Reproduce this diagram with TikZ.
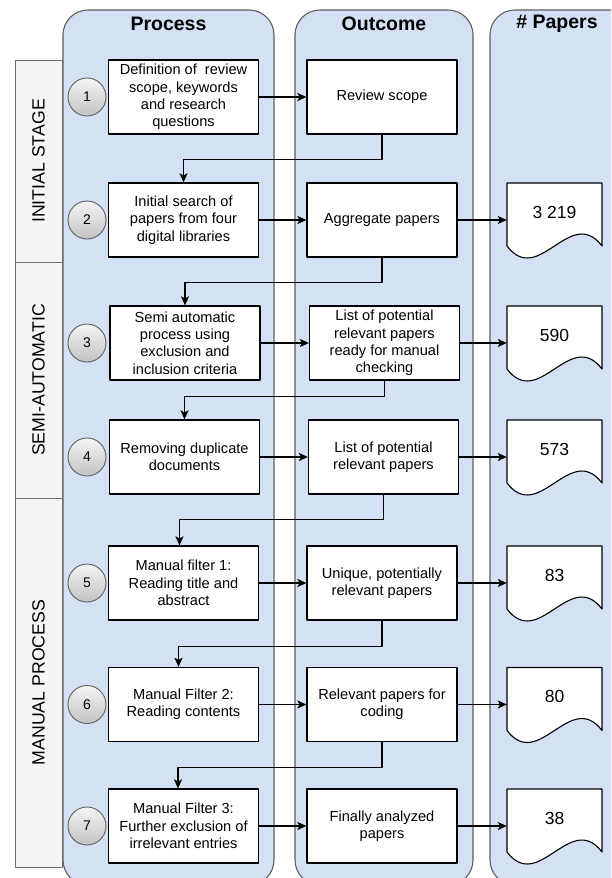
\documentclass[tikz,border=0pt]{standalone}
\usepackage{fontspec}
\setmainfont{Liberation Sans}
\usetikzlibrary{arrows.meta}
\definecolor{lanefill}{HTML}{D4E1F5}
\definecolor{lanedraw}{HTML}{5E5E5E}
\definecolor{stagefill}{HTML}{F5F5F5}
\definecolor{stagedraw}{HTML}{6E6E6E}
\tikzset{
  lane/.style={draw=lanedraw,fill=lanefill,line width=1.1pt,rounded corners=25pt},
  lanehead/.style={font=\fontsize{19.5}{22}\selectfont\bfseries,inner sep=0pt},
  stage/.style={draw=stagedraw,fill=stagefill,line width=0.9pt,rotate=90,minimum height=47pt,inner sep=0pt,font=\fontsize{17.7}{20}\selectfont},
  stepnum/.style={circle,draw=gray!75!black,line width=0.9pt,top color=gray!8,bottom color=gray!48,minimum size=38pt,inner sep=0pt,font=\fontsize{14}{16}\selectfont},
  procbox/.style={draw,fill=white,line width=1.2pt,minimum width=150pt,minimum height=74pt,align=center,inner sep=2pt,font=\fontsize{14.6}{17.4}\selectfont},
  paperdoc/.style={minimum width=95pt,minimum height=74pt,inner sep=0pt,text depth=16pt,font=\fontsize{17.5}{20}\selectfont},
  docline/.style={draw,fill=white,line width=1.1pt},
  conn/.style={->,line width=1.2pt}
}
% document shape: name, centre x, centre y, count
\newcommand{\paperdoc}[4]{%
  \draw [docline] (#2-47.5,#3-37) -- (#2+47.5,#3-37) -- (#2+47.5,#3+26)
    .. controls +(-31.7,-41.5) and +(31.7,41.5) .. (#2-47.5,#3+26) -- cycle;
  \node [paperdoc] (#1) at (#2,#3) {#4};}

\begin{document}
\begin{tikzpicture}[x=1pt,y=-1pt,line join=round,>={Stealth[length=9pt,width=8pt,inset=2pt]}]
\clip (0,0) rectangle (611,878);
% swimlanes
\draw [lane] (63,10) rectangle (274,885);
\draw [lane] (295,10) rectangle (473,885);
\draw [lane] (490,10) rectangle (660,885);
\node [lanehead] (hproc) at (168.5,24) {Process};
\node [lanehead] (hout) at (384,24) {Outcome};
\node [lanehead] (hpap) at (557,24) {\# Papers};
% stages
\node [stage,minimum width=202pt] (initial) at (38.5,161) {INITIAL STAGE};
\node [stage,minimum width=236pt] (semi) at (38.5,380) {SEMI-AUTOMATIC};
\node [stage,minimum width=369pt] (manual) at (38.5,682.5) {MANUAL PROCESS};
% process steps
\node [stepnum] (c1) at (87,97) {1};
\node [stepnum] (c2) at (87,220) {2};
\node [stepnum] (c3) at (87,343) {3};
\node [stepnum] (c4) at (87,457) {4};
\node [stepnum] (c5) at (87,583) {5};
\node [stepnum] (c6) at (87,704.5) {6};
\node [stepnum] (c7) at (87,826) {7};
\node [procbox] (p1) at (183.5,97) {Definition of \ review\\scope, keywords\\and research\\questions};
\node [procbox] (p2) at (183.5,220) {Initial search of\\papers from four\\digital libraries};
\node [procbox] (p3) at (185,343) {Semi automatic\\process using\\exclusion and\\inclusion criteria};
\node [procbox] (p4) at (184.5,457) {Removing duplicate\\documents};
\node [procbox] (p5) at (183.5,583) {Manual filter 1:\\Reading title and\\abstract};
\node [procbox] (p6) at (183.5,704.5) {Manual Filter 2:\\Reading contents};
\node [procbox] (p7) at (183.5,826) {Manual Filter 3:\\Further exclusion of\\irrelevant entries};
% outcomes
\node [procbox] (o1) at (382,97) {Review scope};
\node [procbox] (o2) at (382,220) {Aggregate papers};
\node [procbox] (o3) at (384.5,343) {List of potential\\relevant papers\\ready for manual\\checking};
\node [procbox] (o4) at (383.5,457) {List of potential\\relevant papers};
\node [procbox] (o5) at (382,583) {Unique, potentially\\relevant papers};
\node [procbox] (o6) at (382,704.5) {Relevant papers for\\coding};
\node [procbox] (o7) at (382,826) {Finally analyzed\\papers};
% paper counts
\paperdoc{d2}{554.5}{220}{3 219}
\paperdoc{d3}{554.5}{343}{590}
\paperdoc{d4}{554.5}{457}{573}
\paperdoc{d5}{554.5}{583}{83}
\paperdoc{d6}{554.5}{704.5}{80}
\paperdoc{d7}{554.5}{826}{38}
% arrows
\draw [conn] (p1) -- (o1);
\draw [conn] (p2) -- (o2);
\draw [conn] (p3) -- (o3);
\draw [conn] (p4) -- (o4);
\draw [conn] (p5) -- (o5);
\draw [conn] (p6) -- (o6);
\draw [conn] (p7) -- (o7);
\draw [conn] (o2) -- (d2);
\draw [conn] (o3) -- (d3);
\draw [conn] (o4) -- (d4);
\draw [conn] (o5) -- (d5);
\draw [conn] (o6) -- (d6);
\draw [conn] (o7) -- (d7);
\draw [conn] (o1.south) -- ++(0,24.5) -| (p2.north);
\draw [conn] (o2.south) -- ++(0,24.5) -| (p3.north);
\draw [conn] (o3.south) -- ++(0,16) -| (p4.north);
\draw [conn] (o4.south) -- ++(0,24.5) -| ([xshift=-4pt]p5.north);
\draw [conn] (o5.south) -- ++(0,25.5) -| ([xshift=-5pt]p6.north);
\draw [conn] (o6.south) -- ++(0,25) -| ([xshift=-5.5pt]p7.north);
\end{tikzpicture}
\end{document}
